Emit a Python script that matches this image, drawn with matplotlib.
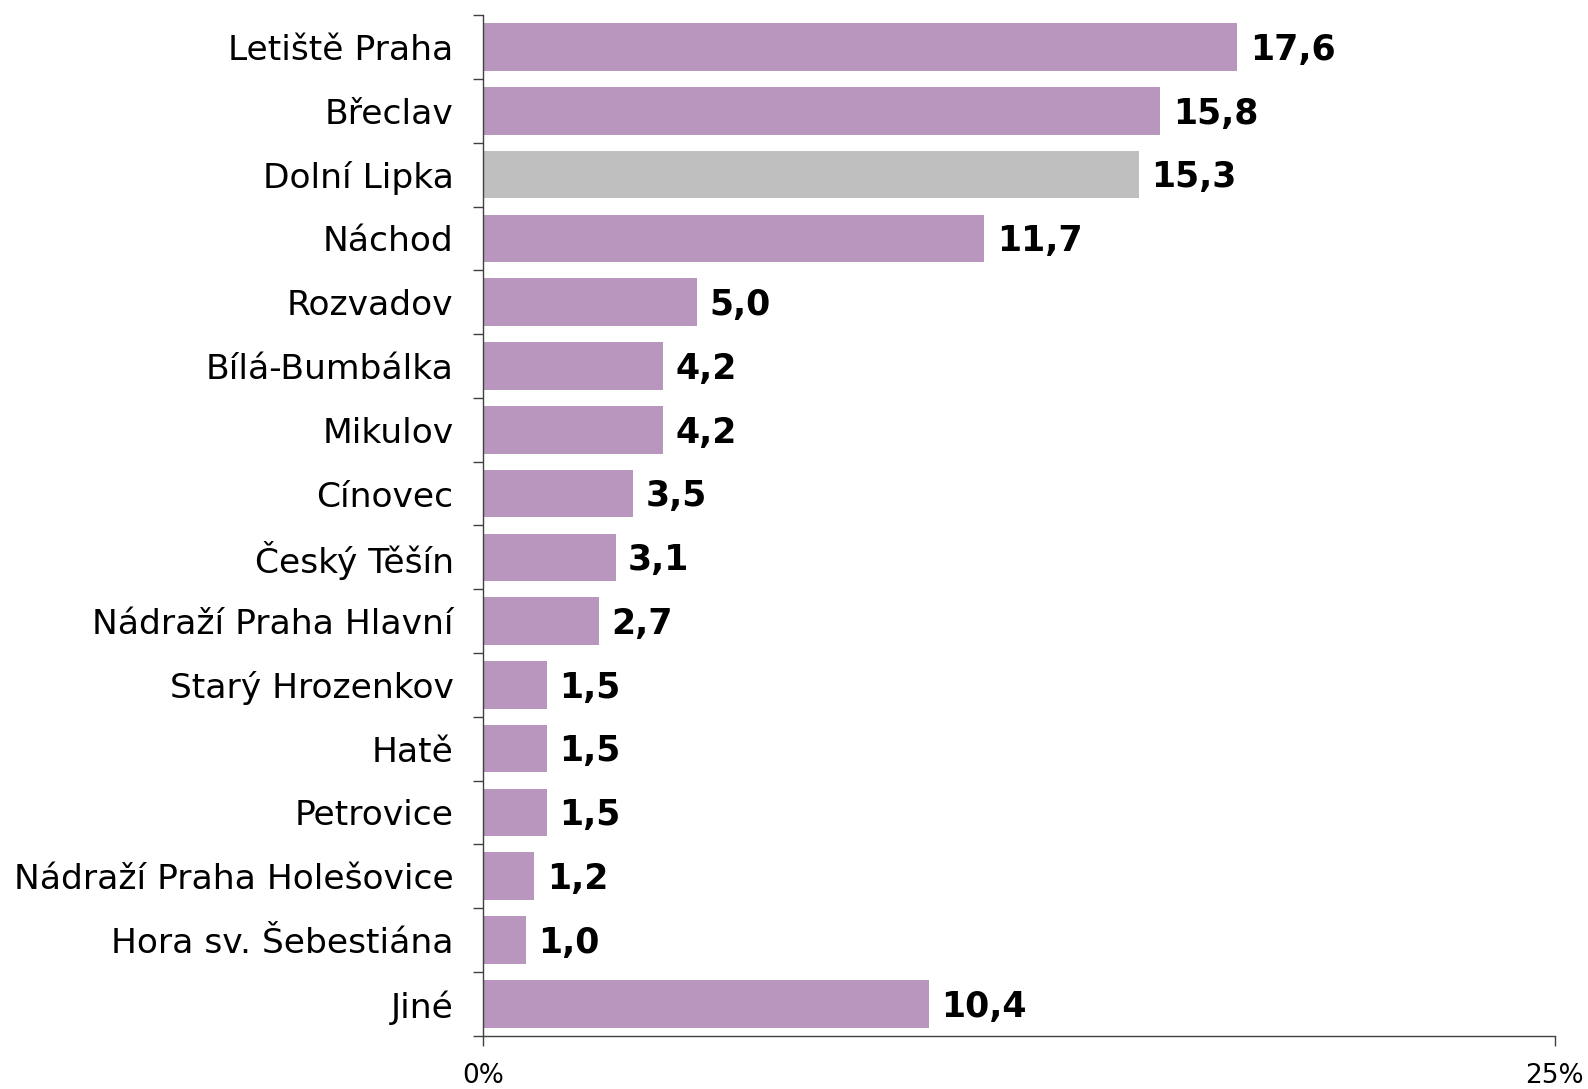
import matplotlib
matplotlib.use("Agg")
import matplotlib.pyplot as plt
import numpy as np

# hraniční přechody - podíl v %
categories = ["Letiště Praha", "Břeclav", "Dolní Lipka", "Náchod", "Rozvadov",
              "Bílá-Bumbálka", "Mikulov", "Cínovec", "Český Těšín",
              "Nádraží Praha Hlavní", "Starý Hrozenkov", "Hatě", "Petrovice",
              "Nádraží Praha Holešovice", "Hora sv. Šebestiána", "Jiné"]
values = [17.6, 15.8, 15.3, 11.7, 5.0, 4.2, 4.2, 3.5, 3.1, 2.7, 1.5, 1.5, 1.5, 1.2, 1.0, 10.4]
highlight = "Dolní Lipka"
x_ticks = [0, 25]
x_ticklabels = ["0%", "25%"]

purple = "#B896BE"
grey = "#BFBFBF"

plt.rcParams['font.family'] = ['DejaVu Sans']

fig = plt.figure(figsize=(15.88, 10.89), dpi=100)
ax = fig.add_axes([0.304, 0.049, 0.675, 0.937])

y = np.arange(len(categories))
colors = [grey if c == highlight else purple for c in categories]
ax.barh(y, values, height=0.745, color=colors)

# popisky hodnot s desetinnou čárkou
for yi, v in zip(y, values):
    ax.annotate(f"{v:.1f}".replace(".", ","), xy=(v, yi), xytext=(9, -2),
                textcoords="offset points", va="center", ha="left",
                fontsize=25, fontweight="bold")

ax.set_xlim(0, 25)
ax.set_ylim(len(categories) - 0.5, -0.5)

ax.set_yticks(y)
ax.set_yticklabels(categories, fontsize=24.8)
ax.tick_params(axis="y", which="major", length=0, pad=21)
ax.set_yticks(np.arange(-0.5, len(categories)), minor=True)
ax.tick_params(axis="y", which="minor", length=7, width=1, color="#404040")

ax.set_xticks(x_ticks)
ax.set_xticklabels(x_ticklabels, fontsize=19)
ax.tick_params(axis="x", length=7, width=1, color="#404040", pad=13)

for s in ["top", "right"]:
    ax.spines[s].set_visible(False)
for s in ["left", "bottom"]:
    ax.spines[s].set_color("#404040")
    ax.spines[s].set_linewidth(1)

fig.savefig("out.png", dpi=100)
